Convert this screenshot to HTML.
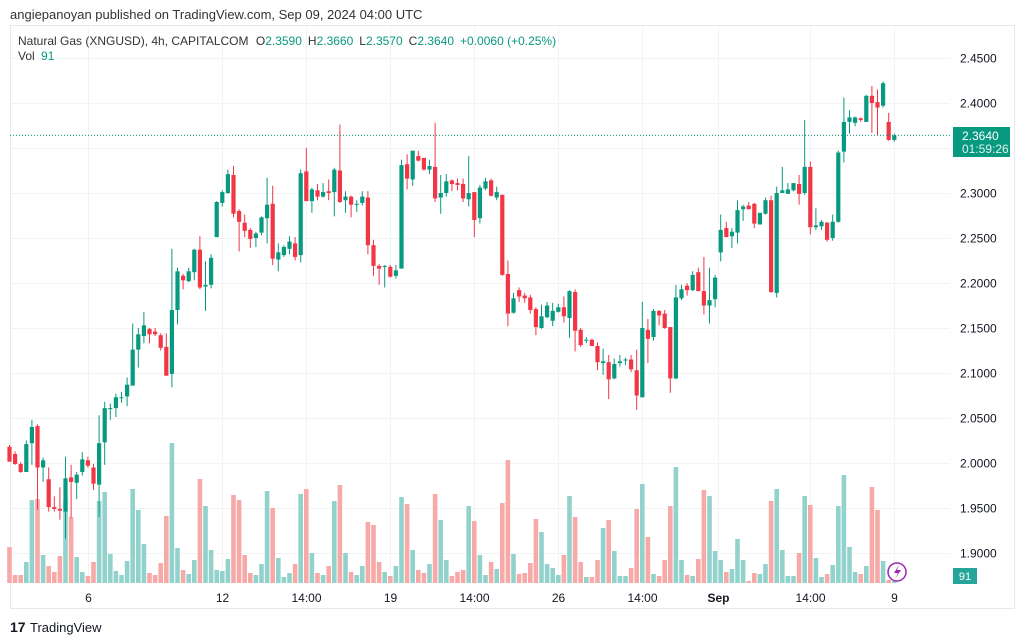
<!DOCTYPE html>
<html><head><meta charset="utf-8">
<style>
html,body{margin:0;padding:0;background:#fff;width:1024px;height:643px;overflow:hidden;font-family:"Liberation Sans",sans-serif;}
svg{position:absolute;left:0;top:0;}
</style></head>
<body>
<svg id="chart" width="1024" height="643" viewBox="0 0 1024 643">
  <text x="10" y="19" font-size="13" fill="#333">angiepanoyan published on TradingView.com, Sep 09, 2024 04:00 UTC</text>
  <rect x="10.5" y="25.5" width="1004" height="583" fill="none" stroke="#e6e8ee"/>
  <g id="grid"></g>
  <g id="vol"></g>
  <g id="candles"></g>
  <line id="lastline" x1="10" x2="950" stroke="#089981" stroke-dasharray="1 2"/>
  <g id="yaxis"></g>
  <g id="xaxis"></g>
  <g>
    <text x="18" y="45" font-size="12" fill="#333">Natural Gas (XNGUSD), 4h, CAPITALCOM <tspan dx="4">O</tspan><tspan fill="#089981">2.3590</tspan><tspan dx="6">H</tspan><tspan fill="#089981">2.3660</tspan><tspan dx="6">L</tspan><tspan fill="#089981">2.3570</tspan><tspan dx="6">C</tspan><tspan fill="#089981">2.3640</tspan><tspan dx="6" fill="#089981">+0.0060 (+0.25%)</tspan></text>
    <text x="18" y="60" font-size="12" fill="#333">Vol <tspan dx="3" fill="#089981">91</tspan></text>
  </g>
  <g>
    <rect x="953" y="127" width="57" height="30" fill="#089981"/>
    <text x="962" y="140" font-size="12" fill="#fff">2.3640</text>
    <text x="962" y="153" font-size="12" fill="#e0f2ef">01:59:26</text>
  </g>
  <g>
    <rect x="953" y="568" width="24" height="16" fill="#26a69a"/>
    <text x="965" y="580" font-size="11" fill="#fff" text-anchor="middle">91</text>
  </g>
  <g>
    <circle cx="897" cy="572" r="9" fill="#fff" stroke="#9c27b0" stroke-width="1.5"/>
    <path d="M899 565 L894 573 L898 573 L895 579 L901 570 L897 570 Z" fill="#9c27b0"/>
  </g>
  <g>
    <text x="10" y="632" font-size="14" font-weight="bold" fill="#131722">17</text>
    <text x="30" y="632" font-size="13" fill="#131722">TradingView</text>
  </g>
</svg>
<script>
const opens=[2.018,2.010,1.999,1.990,2.022,2.041,1.995,1.982,1.951,1.949,1.946,1.984,1.978,1.990,2.003,1.995,1.976,2.023,2.060,2.061,2.072,2.074,2.086,2.126,2.141,2.149,2.146,2.142,2.129,2.099,2.170,2.208,2.202,2.212,2.237,2.196,2.198,2.251,2.289,2.300,2.320,2.280,2.267,2.259,2.250,2.256,2.272,2.288,2.226,2.231,2.238,2.244,2.231,2.324,2.291,2.303,2.296,2.302,2.301,2.325,2.292,2.296,2.287,2.289,2.295,2.242,2.219,2.218,2.218,2.208,2.216,2.332,2.315,2.341,2.339,2.326,2.329,2.295,2.300,2.314,2.311,2.310,2.293,2.301,2.272,2.305,2.314,2.295,2.298,2.210,2.167,2.192,2.186,2.184,2.171,2.150,2.162,2.158,2.168,2.173,2.161,2.190,2.148,2.136,2.137,2.130,2.111,2.112,2.094,2.111,2.114,2.115,2.103,2.073,2.148,2.140,2.169,2.166,2.151,2.094,2.183,2.197,2.192,2.212,2.191,2.175,2.182,2.234,2.261,2.252,2.256,2.282,2.286,2.288,2.265,2.277,2.292,2.189,2.300,2.299,2.303,2.310,2.300,2.329,2.262,2.263,2.267,2.250,2.268,2.346,2.379,2.378,2.383,2.379,2.408,2.401,2.397,2.379,2.359];
const highs=[2.020,2.013,2.001,2.025,2.048,2.043,2.006,1.995,1.963,1.973,2.007,1.998,1.990,2.012,2.007,1.999,2.053,2.068,2.066,2.077,2.079,2.095,2.155,2.150,2.168,2.150,2.150,2.144,2.144,2.238,2.217,2.210,2.217,2.238,2.252,2.224,2.232,2.291,2.303,2.326,2.330,2.282,2.276,2.261,2.257,2.274,2.317,2.308,2.244,2.242,2.252,2.251,2.326,2.350,2.306,2.310,2.311,2.315,2.328,2.376,2.302,2.297,2.292,2.302,2.302,2.248,2.221,2.220,2.220,2.220,2.337,2.343,2.347,2.347,2.339,2.337,2.378,2.320,2.321,2.315,2.316,2.316,2.341,2.301,2.309,2.317,2.316,2.307,2.298,2.225,2.189,2.195,2.189,2.187,2.173,2.176,2.179,2.178,2.177,2.185,2.192,2.193,2.150,2.140,2.138,2.134,2.127,2.120,2.116,2.120,2.117,2.120,2.126,2.179,2.160,2.171,2.170,2.170,2.151,2.198,2.198,2.200,2.213,2.217,2.229,2.217,2.209,2.276,2.268,2.261,2.292,2.287,2.290,2.289,2.278,2.295,2.297,2.307,2.329,2.311,2.311,2.320,2.381,2.335,2.283,2.270,2.268,2.276,2.347,2.406,2.392,2.385,2.384,2.409,2.419,2.415,2.424,2.389,2.366];
const lows=[2.0015,1.998,1.989,1.990,1.998,1.948,1.979,1.946,1.946,1.937,1.916,1.939,1.960,1.986,1.995,1.970,1.940,1.998,2.048,2.051,2.067,2.063,2.086,2.106,2.133,2.133,2.141,2.125,2.097,2.084,2.154,2.193,2.201,2.203,2.193,2.169,2.194,2.251,2.285,2.299,2.273,2.235,2.251,2.239,2.240,2.253,2.244,2.220,2.213,2.229,2.232,2.225,2.223,2.291,2.278,2.292,2.295,2.292,2.274,2.289,2.278,2.273,2.279,2.286,2.232,2.208,2.198,2.195,2.206,2.205,2.216,2.304,2.308,2.335,2.325,2.321,2.290,2.277,2.296,2.302,2.303,2.290,2.285,2.251,2.266,2.303,2.296,2.292,2.208,2.152,2.166,2.179,2.178,2.166,2.142,2.149,2.161,2.152,2.167,2.156,2.139,2.124,2.129,2.133,2.130,2.103,2.098,2.071,2.093,2.107,2.109,2.101,2.059,2.073,2.111,2.136,2.153,2.149,2.078,2.093,2.181,2.186,2.191,2.191,2.165,2.155,2.173,2.224,2.251,2.239,2.244,2.269,2.282,2.261,2.265,2.276,2.189,2.184,2.300,2.299,2.302,2.287,2.298,2.254,2.259,2.259,2.246,2.247,2.267,2.334,2.366,2.374,2.379,2.379,2.367,2.364,2.395,2.358,2.357];
const closes=[2.0015,1.999,1.990,2.021,2.040,1.995,2.003,1.951,1.949,1.947,1.983,1.979,1.987,2.004,1.997,1.977,2.022,2.061,2.061,2.073,2.073,2.087,2.126,2.143,2.153,2.143,2.143,2.128,2.097,2.170,2.213,2.203,2.213,2.237,2.195,2.198,2.228,2.290,2.301,2.321,2.277,2.268,2.258,2.249,2.255,2.273,2.287,2.227,2.234,2.240,2.246,2.229,2.322,2.291,2.304,2.296,2.301,2.300,2.326,2.290,2.296,2.287,2.288,2.296,2.242,2.219,2.216,2.219,2.207,2.214,2.331,2.316,2.347,2.336,2.326,2.330,2.294,2.300,2.313,2.310,2.309,2.294,2.300,2.270,2.306,2.313,2.297,2.301,2.209,2.166,2.183,2.185,2.183,2.170,2.151,2.163,2.175,2.169,2.173,2.163,2.191,2.147,2.131,2.137,2.130,2.112,2.113,2.093,2.110,2.113,2.115,2.104,2.075,2.150,2.138,2.169,2.164,2.150,2.094,2.184,2.193,2.192,2.209,2.191,2.175,2.181,2.206,2.259,2.251,2.257,2.281,2.285,2.282,2.266,2.278,2.292,2.190,2.300,2.303,2.304,2.311,2.299,2.329,2.262,2.264,2.268,2.248,2.268,2.345,2.379,2.384,2.384,2.381,2.408,2.400,2.395,2.422,2.359,2.364];
const volumes=[36,8,8,21,83,84,28,17,11,27,83,66,26,11,7,21,82,91,29,12,8,22,94,73,39,10,8,20,67,140,35,13,9,23,104,77,33,13,12,24,88,83,28,10,8,19,92,75,25,6,10,19,89,94,30,10,8,17,82,98,30,11,8,17,61,58,21,11,7,17,86,79,33,13,10,19,89,63,23,7,11,13,77,62,28,8,21,14,80,123,29,9,10,20,64,51,19,15,8,28,87,66,21,6,6,23,55,63,32,7,7,15,74,99,46,9,7,23,77,116,23,8,7,24,93,87,32,23,11,14,44,23,2,10,9,19,82,94,33,7,7,30,87,78,25,6,9,18,77,108,36,11,9,17,96,73,22,3,2];
const priceTicks=[2.45,2.40,2.35,2.30,2.25,2.20,2.15,2.10,2.05,2.00,1.95,1.90];
const timeLabels=["6","12","14:00","19","14:00","26","14:00","Sep","14:00","9"];
const timeLabelIdx=[14,38,53,68,83,98,113,126.5,143,158];

const NS="http://www.w3.org/2000/svg";
const X0=9.5, DX=5.6, PLOT_R=950;
function xScale(i){return X0+i*DX;}
function yScale(p){return 58+(2.45-p)*900;}
const VOL_BASE=583;
function vScale(v){return VOL_BASE-v;}
function mk(tag,attrs,parent){const e=document.createElementNS(NS,tag);for(const k in attrs)e.setAttribute(k,attrs[k]);parent.appendChild(e);return e;}

const grid=document.getElementById('grid');
priceTicks.forEach(function(p){
  const y=Math.round(yScale(p))+0.5;
  const l=mk('line',{x1:11,x2:PLOT_R,y1:y,y2:y,stroke:'#f2f3f5'},grid);
  
  
  const t=mk('text',{x:960,y:y+4,'font-size':12,fill:'#131722'},document.getElementById('yaxis'));
  t.textContent=p.toFixed(4);
  
  
});
timeLabelIdx.forEach(function(idx,k){
  const x=Math.round(xScale(idx))+0.5;
  const l=mk('line',{x1:x,x2:x,y1:26,y2:585,stroke:'#f2f3f5'},grid);
  
  
  const t=mk('text',{x:x,y:602,'font-size':12,fill:'#131722','text-anchor':'middle'},document.getElementById('xaxis'));
  if(timeLabels[k]==='Sep')t.setAttribute('font-weight','bold');
  t.textContent=timeLabels[k];
  
  
});

const vol=document.getElementById('vol'), cg=document.getElementById('candles');
for(let i=0;i<closes.length;i++){
  const up=closes[i]>=opens[i];
  const x=xScale(i);
  const vb=mk('rect',{x:x-2.3,y:vScale(volumes[i]),width:4.6,height:volumes[i],fill:up?'#92d2cc':'#f7a9a7'},vol);
  
  
  const col=up?'#089981':'#f23645';
  const w=mk('line',{x1:x,x2:x,y1:yScale(highs[i]),y2:yScale(lows[i]),stroke:col,'stroke-width':1},cg);
  
  
  const top=yScale(Math.max(opens[i],closes[i])), bot=yScale(Math.min(opens[i],closes[i]));
  const b=mk('rect',{x:x-2.1,y:top,width:4.2,height:Math.max(1,bot-top),fill:col},cg);
  
  
}
const ll=document.getElementById('lastline');
const ly=yScale(closes[closes.length-1]);
ll.setAttribute('y1',ly);ll.setAttribute('y2',ly);
</script>
</body></html>
